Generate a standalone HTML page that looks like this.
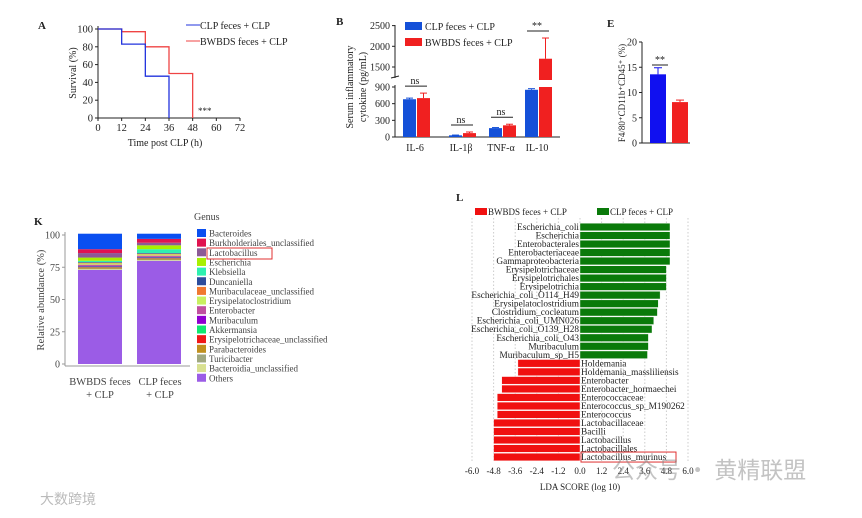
<!DOCTYPE html>
<html><head><meta charset="utf-8"><style>
body{margin:0;background:#fff;}
svg{display:block;font-family:"Liberation Serif",serif;}
</style></head><body>
<svg id="s" width="862" height="518" viewBox="0 0 862 518"></svg>
<script>
// Panel A data
const survHours=[0,12,24,36,48,60,72];
const survClp=[100,83,47,0];      // value after each 12h step
const survBw=[100,97,80,50,0];
const survTicks=[0,20,40,60,80,100];
// Panel B data
const cytoCats=["IL-6","IL-1β","TNF-α","IL-10"];
const cytoClp=[680,30,160,850];
const cytoClpErr=[700,35,170,870];
const cytoBw=[700,70,210,1700];
const cytoBwErr=[790,90,230,2200];
const cytoSig=["ns","ns","ns","**"];
// Panel E data
const macroVals=[13.6,8.1];
const macroErr=[14.9,8.5];
// Panel K data
const genera=["Bacteroides","Burkholderiales_unclassified","Lactobacillus","Escherichia","Klebsiella","Duncaniella","Muribaculaceae_unclassified","Erysipelatoclostridium","Enterobacter","Muribaculum","Akkermansia","Erysipelotrichaceae_unclassified","Parabacteroides","Turicibacter","Bacteroidia_unclassified","Others"];
const genusColors=["#0a4ff0","#e0134f","#8c5a96","#a8f000","#2ef0b0","#2c4c9c","#f07830","#c8f060","#c050a0","#9000d0","#10e870","#f01818","#c09020","#a0a880","#d8e090","#9b5ce6"];
const abBw=[12,3,3.5,2.5,1,0.5,0.5,1,1,0.5,0.5,0.5,0.5,0.5,0.5,73];
const abClp=[4,3,2,3,3,0.5,0.5,1,1,0.5,0.5,0.5,0.5,0.5,0.5,80];
// Panel L data
const ldaNames=["Escherichia_coli","Escherichia","Enterobacterales","Enterobacteriaceae","Gammaproteobacteria","Erysipelotrichaceae","Erysipelotrichales","Erysipelotrichia","Escherichia_coli_O114_H49","Erysipelatoclostridium","Clostridium_cocleatum","Escherichia_coli_UMN026","Escherichia_coli_O139_H28","Escherichia_coli_O43","Muribaculum","Muribaculum_sp_H5","Holdemania","Holdemania_massliliensis","Enterobacter","Enterobacter_hormaechei","Enterococcaceae","Enterococcus_sp_M190262","Enterococcus","Lactobacillaceae","Bacilli","Lactobacillus","Lactobacillales","Lactobacillus_murinus"];
const ldaVals=[5.0,5.0,5.0,5.0,5.0,4.8,4.8,4.8,4.45,4.35,4.3,4.1,4.0,3.8,3.8,3.75,-3.45,-3.45,-4.35,-4.35,-4.6,-4.6,-4.6,-4.8,-4.8,-4.8,-4.8,-4.8];
const ldaTicks=["-6.0","-4.8","-3.6","-2.4","-1.2","0.0","1.2","2.4","3.6","4.8","6.0"];

const S=document.getElementById('s');const NS="http://www.w3.org/2000/svg";
function el(t,a,p){const e=document.createElementNS(NS,t);for(const k in a)e.setAttribute(k,a[k]);(p||S).appendChild(e);return e;}
function tx(x,y,s,a,p){const e=el('text',Object.assign({x:x,y:y,'font-size':10,fill:'#222'},a||{}),p);e.textContent=s;return e;}
function ln(x1,y1,x2,y2,a,p){return el('line',Object.assign({x1,y1,x2,y2,stroke:'#222','stroke-width':1},a||{}),p);}

// ===== Panel A =====
let g=el('g',{});
const ax=h=>98+h*(142/72), ay=v=>118-v*0.89;
tx(38,29,"A",{'font-weight':'bold','font-size':11},g);
ln(98,ay(0),240,ay(0),{},g);ln(98,ay(0),98,ay(100)-3,{},g);
survHours.forEach(h=>{ln(ax(h),118,ax(h),121,{},g);tx(ax(h),131,h,{'text-anchor':'middle','font-size':10.5},g);});
survTicks.forEach(v=>{ln(95,ay(v),98,ay(v),{},g);tx(93,ay(v)+3.5,v,{'text-anchor':'end','font-size':10.5},g);});
tx(165,146,"Time post CLP (h)",{'text-anchor':'middle'},g);
tx(0,0,"Survival  (%)",{'text-anchor':'middle',transform:'translate(76,73) rotate(-90)'},g);
function step(vals,color,name){let d="M"+ax(0)+","+ay(vals[0]);for(let i=1;i<vals.length;i++){d+=" H"+ax(i*12)+" V"+ay(vals[i]);}
 const p=el('path',{d:d,fill:'none',stroke:color,'stroke-width':1.3},g);}
step(survBw,'#ef4444','survival-line-bwbds');step(survClp,'#2233dd','survival-line-clp');
tx(198,114,"***",{'font-size':9},g);
ln(186,25,200,25,{stroke:'#2233dd'},g);tx(200,29,"CLP  feces + CLP",{},g);
ln(186,41,200,41,{stroke:'#ef4444'},g);tx(200,45,"BWBDS feces + CLP",{},g);

// ===== Panel B =====
g=el('g',{});
const by=v=>v<=900?137-v*(50/900):67-(v-1500)*(20.7/500);
tx(336,25,"B",{'font-weight':'bold','font-size':11},g);
ln(395,137,560,137,{},g);ln(395,137,395,85,{},g);ln(395,78,395,25,{},g);
ln(391,78,399,76,{},g);
[0,300,600,900,1500,2000,2500].forEach(v=>{ln(392,by(v),395,by(v),{},g);tx(390,by(v)+3.5,v,{'text-anchor':'end'},g);});
tx(0,0,"Serum inflammatory",{'text-anchor':'middle',transform:'translate(353,87) rotate(-90)'},g);
tx(0,0,"cytokine (pg/mL)",{'text-anchor':'middle',transform:'translate(366,87) rotate(-90)'},g);
const bcx=[415,461,501,537];
function barB(x,v,e,c,name){
 if(v<=900){const r=el('rect',{x:x,y:by(v),width:13,height:137-by(v),fill:c},g);}
 else{const r=el('rect',{x:x,y:by(900),width:13,height:137-by(900),fill:c},g);
  const r2=el('rect',{x:x,y:by(v),width:13,height:80-by(v),fill:c},g);}
 ln(x+6.5,by(e),x+6.5,by(v),{stroke:c},g);ln(x+3,by(e),x+10,by(e),{stroke:c},g);}
cytoCats.forEach((c,i)=>{
 barB(bcx[i]-12,cytoClp[i],cytoClpErr[i],'#1450d8','bar-clp-'+i);
 barB(bcx[i]+2,cytoBw[i],cytoBwErr[i],'#f02020','bar-bwbds-'+i);
 const top=Math.min(by(cytoBwErr[i]),by(cytoClpErr[i]))-7;
 ln(bcx[i]-10,top,bcx[i]+12,top,{},g);tx(bcx[i],top-2,cytoSig[i],{'text-anchor':'middle'},g);
 tx(bcx[i],151,c,{'text-anchor':'middle'},g);
});
el('rect',{x:405,y:22,width:17,height:8,fill:'#1450d8'},g);tx(425,30,"CLP feces + CLP",{},g);
el('rect',{x:405,y:38,width:17,height:8,fill:'#f02020'},g);tx(425,46,"BWBDS feces + CLP",{},g);

// ===== Panel E =====
g=el('g',{});
const ey=v=>143-v*5.05;
tx(607,27,"E",{'font-weight':'bold','font-size':11},g);
ln(642,143,690,143,{},g);ln(642,143,642,ey(20),{},g);
[0,5,10,15,20].forEach(v=>{ln(639,ey(v),642,ey(v),{},g);tx(637,ey(v)+3.5,v,{'text-anchor':'end'},g);});
tx(0,0,"F4/80⁺CD11b⁺CD45⁺ (%)",{'text-anchor':'middle','font-size':9,transform:'translate(625,93) rotate(-90)'},g);
const ex=[650,672],ec=['#1010f0','#f02020'];
macroVals.forEach((v,i)=>{const r=el('rect',{x:ex[i],y:ey(v),width:16,height:143-ey(v),fill:ec[i]},g);
 
 ln(ex[i]+8,ey(macroErr[i]),ex[i]+8,ey(v),{stroke:ec[i]},g);ln(ex[i]+4,ey(macroErr[i]),ex[i]+12,ey(macroErr[i]),{stroke:ec[i]},g);});
ln(652,65,668,65,{},g);tx(660,63,"**",{'text-anchor':'middle'},g);

// ===== Panel K =====
g=el('g',{});
const ky=v=>364-v*1.29;
tx(34,225,"K",{'font-weight':'bold','font-size':11},g);
ln(65,366,190,366,{stroke:'#999'},g);ln(65,366,65,232,{stroke:'#999'},g);
[0,25,50,75,100].forEach(v=>{ln(62,ky(v),65,ky(v),{stroke:'#999'},g);tx(60,ky(v)+3.5,v,{'text-anchor':'end','fill':'#444'},g);});
tx(0,0,"Relative abundance (%)",{'text-anchor':'middle','fill':'#444','font-size':10.5,transform:'translate(44,300) rotate(-90)'},g);
function stack(vals,x,name){let cum=0;for(let i=vals.length-1;i>=0;i--){const y0=ky(cum),y1=ky(cum+vals[i]);
 const r=el('rect',{x:x,y:y1,width:44,height:y0-y1,fill:genusColors[i]},g);cum+=vals[i];}}
stack(abBw,78,'stack-bwbds');stack(abClp,137,'stack-clp');
tx(100,385,"BWBDS feces",{'text-anchor':'middle','fill':'#444','font-size':10.5},g);tx(100,398,"+ CLP",{'text-anchor':'middle','fill':'#444','font-size':10.5},g);
tx(160,385,"CLP feces",{'text-anchor':'middle','fill':'#444','font-size':10.5},g);tx(160,398,"+ CLP",{'text-anchor':'middle','fill':'#444','font-size':10.5},g);
tx(194,220,"Genus",{'fill':'#444'},g);
genera.forEach((n,i)=>{const y=229+i*9.65;el('rect',{x:197,y:y,width:9,height:8,fill:genusColors[i]},g);
 const t=tx(209,y+7.5,n,{'fill':'#444','font-size':9},g);});
el('rect',{x:207,y:248,width:65,height:11,fill:'none',stroke:'#e03030','stroke-width':1},g);

// ===== Panel L =====
g=el('g',{});
const lx=v=>580+v*18, ly=i=>227+i*8.52;
tx(456,201,"L",{'font-weight':'bold','font-size':11},g);
ldaTicks.forEach(t=>{const x=lx(parseFloat(t));ln(x,218,x,463,{stroke:'#ccc','stroke-dasharray':'1.5,2'},g);tx(x,474,t,{'text-anchor':'middle','font-size':9},g);});
ldaNames.forEach((n,i)=>{const v=ldaVals[i],y=ly(i);
 const r=el('rect',{x:Math.min(lx(0),lx(v)),y:y-3.8,width:Math.abs(lx(v)-lx(0)),height:7.6,fill:v>0?'#0a7a0a':'#f01010',stroke:'#fff','stroke-width':0.4},g);
 
 if(v>0)tx(lx(0)-1,y+3,n,{'text-anchor':'end','font-size':9.3},g);else tx(lx(0)+1,y+3,n,{'font-size':9.3},g);});
el('rect',{x:581,y:ly(27)-5,width:95,height:10,fill:'none',stroke:'#e03030'},g);
tx(580,490,"LDA SCORE (log 10)",{'text-anchor':'middle','font-size':9},g);
el('rect',{x:475,y:208,width:12,height:7,fill:'#f01010'},g);tx(488,215,"BWBDS feces + CLP",{'font-size':9},g);
el('rect',{x:597,y:208,width:12,height:7,fill:'#0a7a0a'},g);tx(610,215,"CLP feces + CLP",{'font-size':9},g);

// watermarks
const w1=tx(612,478,"公众号 · 黄精联盟",{'font-size':23,fill:'#888','fill-opacity':0.5,'font-family':'"Noto Sans CJK SC",sans-serif'});

const w2=tx(40,504,"大数跨境",{'font-size':14,fill:'#bbb','font-family':'"Noto Sans CJK SC",sans-serif'});

</script>
</body></html>
